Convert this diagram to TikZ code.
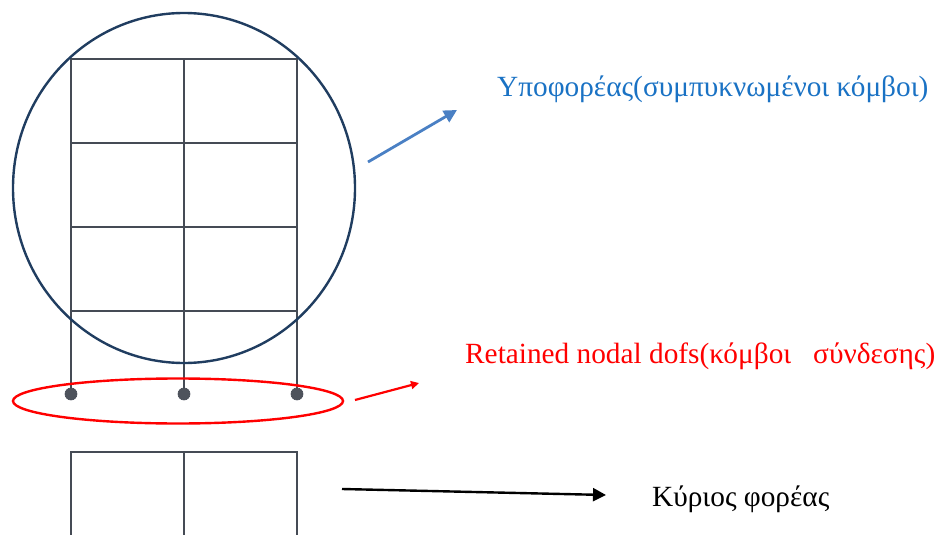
\documentclass[tikz,border=0pt]{standalone}
\usepackage{fontspec}
\setmainfont{Liberation Serif}
\usetikzlibrary{arrows.meta,shapes.geometric}
\definecolor{gridc}{HTML}{454B55}
\definecolor{navy}{HTML}{203D60}
\definecolor{blueA}{HTML}{4A80C4}
\definecolor{blueT}{HTML}{1A72C4}
\definecolor{dotc}{HTML}{4E535C}
\tikzset{
  member/.style={draw=gridc, line width=1.1pt},
  jointdot/.style={circle, fill=dotc, draw=gridc, line width=0.6pt, minimum size=12pt, inner sep=0pt},
  lbl/.style={anchor=base west, inner sep=0pt, font=\fontsize{29.3}{34}\selectfont},
  conn/.style={line width=2.6pt, -{Triangle[length=13pt,width=13pt]}}
}
\begin{document}
\begin{tikzpicture}[x=1pt,y=-1pt]
\useasboundingbox (0,0) rectangle (938,535);
% upper sub-frame
\draw[member] (71,59) rectangle (297,311);
\draw[member] (71,143) -- (297,143);
\draw[member] (71,227) -- (297,227);
\draw[member] (184,59) -- (184,311);
\draw[member] (71,311) -- (71,394);
\draw[member] (184,311) -- (184,394);
\draw[member] (297,311) -- (297,394);
% lower frame
\draw[member] (71,535) -- (71,452) -- (297,452) -- (297,535);
\draw[member] (184,452) -- (184,535);
% circle
\node[ellipse, draw=navy, line width=2.4pt, minimum width=342pt, minimum height=350pt, inner sep=0pt] (sub) at (184,188) {};
% red ellipse
\node[ellipse, draw=red, line width=2.4pt, minimum width=330pt, minimum height=45pt, inner sep=0pt] (ret) at (178,401) {};
% joints
\node[jointdot] (j1) at (71,394) {};
\node[jointdot] (j2) at (184,394) {};
\node[jointdot] (j3) at (297,394) {};
% labels
\node[lbl, text=blueT] (tsub) at (497,96) {Υποφορέας(συμπυκνωμένοι κόμβοι)};
\node[lbl, text=red] (tret) at (465,363) {Retained nodal dofs(κόμβοι\ \ \ σύνδεσης)};
\node[lbl, text=black] (tmain) at (652,506) {Κύριος φορέας};
% arrows
\coordinate (b1) at (368,162);
\coordinate (b2) at (457,110);
\draw[conn, draw=blueA, fill=blueA, line width=2.8pt] (b1) -- (b2);
\coordinate (r1) at (355,400);
\coordinate (r2) at (419,383);
\draw[red, line width=2.2pt, -{Triangle[length=8pt,width=8pt]}] (r1) -- (r2);
\coordinate (k1) at (342,489);
\coordinate (k2) at (606,495);
\draw[conn, black, line width=2.4pt] (k1) -- (k2);
\end{tikzpicture}
\end{document}
